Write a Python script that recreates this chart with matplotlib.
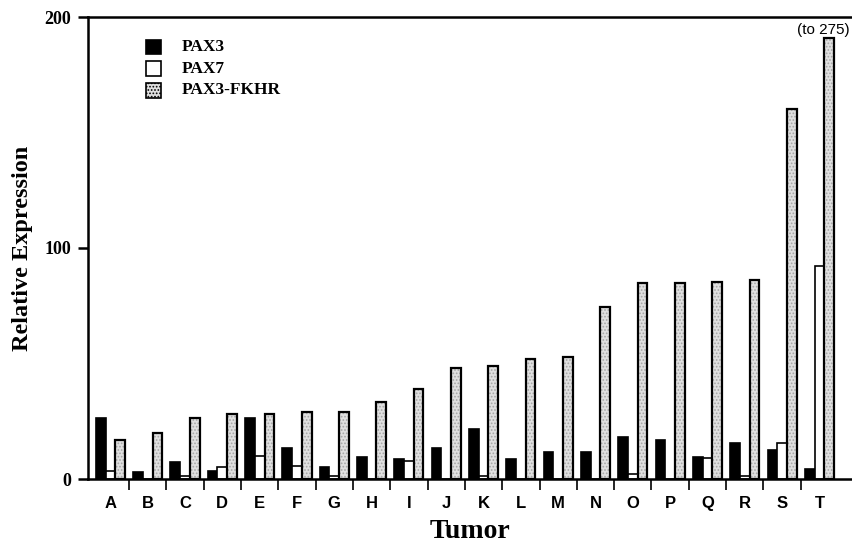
"""
Relative expression of PAX3, PAX7 and PAX3-FKHR across tumors A-T.
"""
import matplotlib
matplotlib.use("Agg")
import matplotlib.pyplot as plt
from matplotlib.patches import Rectangle
import numpy as np

tumors = list("ABCDEFGHIJKLMNOPQRST")
pax3 = [26.5, 2.9, 7.5, 3.6, 26.5, 13.3, 5.1, 9.7, 8.8, 13.3,
        21.5, 8.8, 11.8, 11.8, 18.3, 16.9, 9.5, 15.4, 12.4, 4.3]
pax7 = [3.6, 0.0, 1.3, 5.1, 10.0, 5.6, 1.3, 0.0, 7.8, 0.0,
        1.3, 0.0, 0.0, 0.0, 2.0, 0.0, 9.2, 1.3, 15.4, 92.0]
pax3_fkhr = [16.9, 19.8, 26.3, 28.0, 28.0, 28.9, 28.9, 33.2, 39.1, 48.0,
             49.0, 52.0, 53.0, 74.5, 85.0, 85.0, 85.3, 86.0, 160.0, 275.0]
series_names = ["PAX3", "PAX7", "PAX3-FKHR"]
CAP = 191  # tallest bar is broken off at the top of the axis

SERIF = "Liberation Serif"
SANS = "Liberation Sans"
STIPPLE = "#e0e0e0"
DOTS = "#a6a6a6"

fig = plt.figure(figsize=(8.53, 5.45), dpi=100)
ax = fig.add_axes([88 / 853, 1 - 479 / 545, 1 - 88 / 853, (479 - 17) / 545])

x = np.arange(len(tumors))
w = 0.26
ax.bar(x - w, pax3, w, color="black", edgecolor="black", linewidth=1.2)
ax.bar(x, pax7, w, color="white", edgecolor="black", linewidth=1.2)
fk = np.minimum(pax3_fkhr, CAP)
plt.rcParams["hatch.linewidth"] = 0.8
ax.bar(x + w, fk, w, color=STIPPLE, edgecolor=DOTS, linewidth=0, hatch=".....")
ax.bar(x + w, fk, w, color="none", edgecolor="black", linewidth=1.6)

ax.set_xlim(-0.6, 19.9)
ax.set_ylim(0, 200)

ax.spines["right"].set_visible(False)
for s in ("left", "top", "bottom"):
    ax.spines[s].set_linewidth(1.8)

ax.set_yticks([0, 100, 200])
ax.set_yticklabels(["0", "100", "200"], fontfamily=SERIF, fontweight="bold", fontsize=13)
ax.tick_params(axis="y", length=7, width=1.8, pad=5)

ax.set_xticks(x[:-1] + 0.5)
ax.set_xticklabels([])
ax.tick_params(axis="x", which="major", length=8, width=1.2, direction="out")
ax.set_xticks(x, minor=True)
ax.set_xticklabels(tumors, minor=True, fontfamily=SANS, fontweight="bold", fontsize=12)
ax.tick_params(axis="x", which="minor", length=0, pad=12)

ax.set_ylabel("Relative Expression", fontfamily=SERIF, fontweight="bold", fontsize=17.5, labelpad=8)
ax.set_xlabel("Tumor", fontfamily=SERIF, fontweight="bold", fontsize=20, labelpad=6)

ax.text(19.1, 194.4, "(to 275)", fontfamily=SANS, fontsize=11, ha="center", va="center")

# legend drawn by hand to match the original layout
styles = [dict(facecolor="black"), dict(facecolor="white"),
          dict(facecolor=STIPPLE, hatch=".....")]
for i, (name, st) in enumerate(zip(series_names, styles)):
    yy = 0.935 - i * 0.047
    ax.add_patch(Rectangle((0.076, yy - 0.016), 0.019, 0.032, transform=ax.transAxes,
                           edgecolor="black", linewidth=1.2, **st))
    ax.text(0.122, yy, name, transform=ax.transAxes, fontfamily=SERIF,
            fontweight="bold", fontsize=12.5, va="center")

fig.savefig("out.png", dpi=100)
